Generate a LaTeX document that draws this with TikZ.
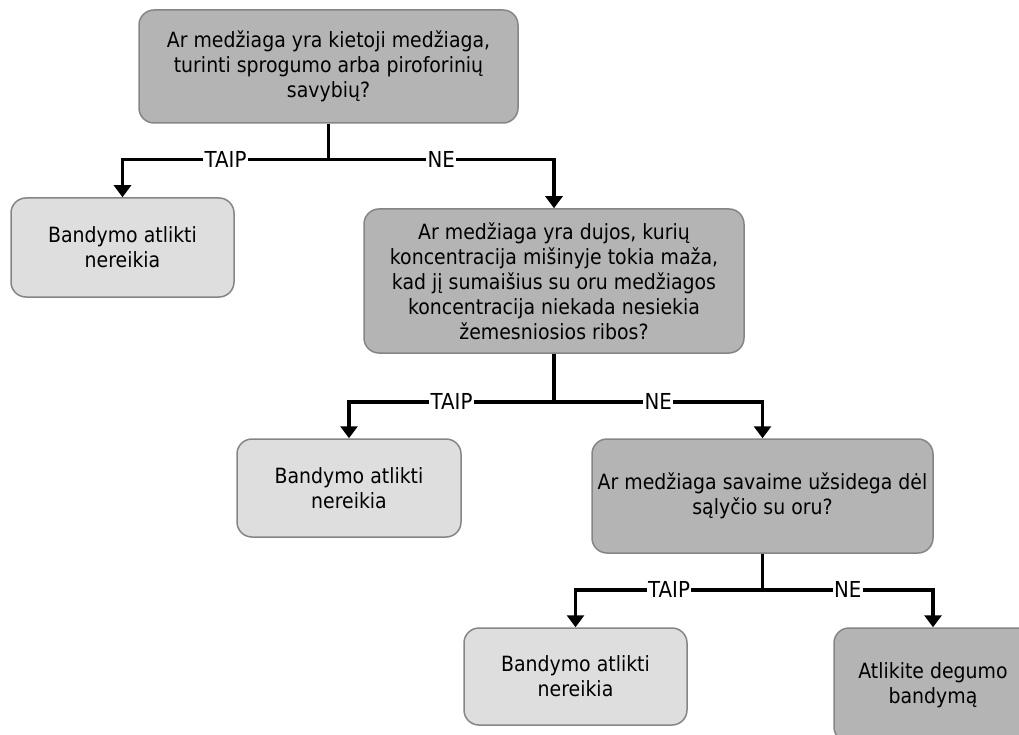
\documentclass[tikz,border=0pt]{standalone}
\usepackage{fontspec}
\setmainfont{DejaVu Sans}[FakeStretch=0.9]
\usetikzlibrary{arrows.meta}
\definecolor{darkbox}{HTML}{B4B4B4}
\definecolor{lightbox}{HTML}{DEDEDE}
\definecolor{boxline}{HTML}{858585}
\begin{document}
\begin{tikzpicture}[x=1pt,y=-1pt,
  box/.style={draw=boxline, line width=1.5pt, rounded corners=15pt, align=center,
    inner sep=0pt, font=\fontsize{21}{25}\selectfont, text=black},
  qbox/.style={box, fill=darkbox},
  abox/.style={box, fill=lightbox},
  conn/.style={line width=3.5pt, black},
  arr/.style={conn, -{Triangle[width=17pt,length=12pt]}},
  lbl/.style={fill=white, inner sep=1.5pt, font=\fontsize{22}{24}\selectfont}]
\useasboundingbox (0,0) rectangle (1019,735);
\clip (0,0) rectangle (1019,735);

\node[qbox, minimum width=379pt, minimum height=113pt] (q1) at (328.5,66.5)
  {Ar medžiaga yra kietoji medžiaga,\\turinti sprogumo arba piroforinių\\savybių?};
\node[abox, minimum width=223pt, minimum height=99pt] (b1) at (122.5,247.5)
  {Bandymo atlikti\\nereikia};
\node[qbox, minimum width=380pt, minimum height=144pt] (q2) at (554,281)
  {Ar medžiaga yra dujos, kurių\\koncentracija mišinyje tokia maža,\\kad jį sumaišius su oru medžiagos\\koncentracija niekada nesiekia\\žemesniosios ribos?};
\node[abox, minimum width=224pt, minimum height=98pt] (b2) at (349,488)
  {Bandymo atlikti\\nereikia};
\node[qbox, minimum width=341pt, minimum height=114pt] (q3) at (762.5,496)
  {Ar medžiaga savaime užsidega dėl\\sąlyčio su oru?};
\node[abox, minimum width=223pt, minimum height=97pt] (b3) at (575.5,676.5)
  {Bandymo atlikti\\nereikia};
\node[qbox, minimum width=198pt, minimum height=114pt] (a) at (933,685)
  {Atlikite degumo\\bandymą};

\path (q1.south) ++(0,36) coordinate (j1);
\path (q2.south) ++(0,48) coordinate (j2);
\path (q3.south) ++(0,36) coordinate (j3);

\draw[conn] (q1.south) -- (j1);
\draw[arr] (j1) -| node[lbl, pos=0.25] {TAIP} (b1.north);
\draw[arr] (j1) -| node[lbl, pos=0.25] {NE} (q2.north);

\draw[conn] (q2.south) -- (j2);
\draw[arr] (j2) -| node[lbl, pos=0.25] {TAIP} (b2.north);
\draw[arr] (j2) -| node[lbl, pos=0.25] {NE} (q3.north);

\draw[conn] (q3.south) -- (j3);
\draw[arr] (j3) -| node[lbl, pos=0.25] {TAIP} (b3.north);
\draw[arr] (j3) -| node[lbl, pos=0.25] {NE} (a.north);
\end{tikzpicture}
\end{document}
